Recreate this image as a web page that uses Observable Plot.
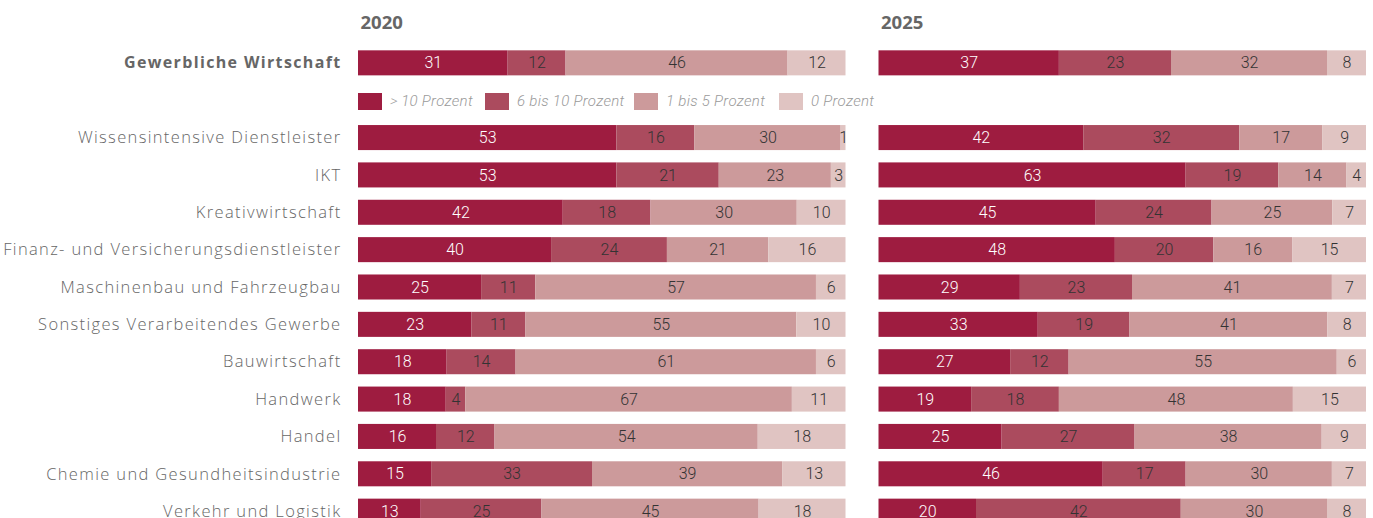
<!DOCTYPE html>
<html>
<head>
<meta charset="utf-8">
<script src="https://cdn.jsdelivr.net/npm/d3@7"></script>
<script src="https://cdn.jsdelivr.net/npm/@observablehq/plot@0.6"></script>
<style>
  html, body { margin: 0; padding: 0; background: #fff; overflow: hidden; }
  #wrap { position: relative; width: 1373px; height: 518px; overflow: hidden; }
  #legend { position: absolute; left: 358px; top: 92px; display: flex; align-items: center;
            font-family: Roboto, sans-serif; font-style: italic; font-weight: 300; font-size: 15px;
            color: #9a9a9a; letter-spacing: 0.3px; white-space: nowrap; }
  #legend .item { display: flex; align-items: center; }
  #legend .sw { width: 24px; height: 17px; margin-right: 8px; flex: none; }
  g[aria-label="y-axis tick label"] { letter-spacing: 1.35px; }
  g[aria-label="y-axis tick label"][font-weight="bold"] { letter-spacing: 1.2px; }
</style>
</head>
<body>
<div id="wrap"><div id="legend"></div></div>
<script>
const years = [2020, 2025];
const groups = [">\u200910 Prozent", "6 bis 10 Prozent", "1 bis 5 Prozent", "0 Prozent"];
const colors = ["#9e1c40", "#ab4b5e", "#cc9a9b", "#e0c4c2"];
const legendWidths = [127, 149, 145, 100];
const totalRow = "Gewerbliche Wirtschaft";
const legendRow = "__legend__";
const categories = [
  "Gewerbliche Wirtschaft",
  "Wissensintensive Dienstleister",
  "IKT",
  "Kreativwirtschaft",
  "Finanz- und Versicherungsdienstleister",
  "Maschinenbau und Fahrzeugbau",
  "Sonstiges Verarbeitendes Gewerbe",
  "Bauwirtschaft",
  "Handwerk",
  "Handel",
  "Chemie und Gesundheitsindustrie",
  "Verkehr und Logistik"
];
// 2020
const y2020_over10 = [31, 53, 53, 42, 40, 25, 23, 18, 18, 16, 15, 13];
const y2020_6to10  = [12, 16, 21, 18, 24, 11, 11, 14,  4, 12, 33, 25];
const y2020_1to5   = [46, 30, 23, 30, 21, 57, 55, 61, 67, 54, 39, 45];
const y2020_zero   = [12,  1,  3, 10, 16,  6, 10,  6, 11, 18, 13, 18];
// 2025
const y2025_over10 = [37, 42, 63, 45, 48, 29, 33, 27, 19, 25, 46, 20];
const y2025_6to10  = [23, 32, 19, 24, 20, 23, 19, 12, 18, 27, 17, 42];
const y2025_1to5   = [32, 17, 14, 25, 16, 41, 41, 55, 48, 38, 30, 30];
const y2025_zero   = [ 8,  9,  4,  7, 15,  7,  8,  6, 15,  9,  7,  8];

const series = {
  2020: [y2020_over10, y2020_6to10, y2020_1to5, y2020_zero],
  2025: [y2025_over10, y2025_6to10, y2025_1to5, y2025_zero]
};
const data = [];
for (const year of years) {
  categories.forEach((cat, i) => {
    groups.forEach((g, j) => {
      data.push({year, cat, group: g, value: series[year][j][i]});
    });
  });
}
const rows = [categories[0], legendRow, ...categories.slice(1)];

const chart = Plot.plot({
  width: 1373,
  height: 536,
  marginLeft: 358,
  marginRight: 7,
  marginTop: 38,
  marginBottom: 0,
  style: { fontFamily: "Roboto, sans-serif", fontSize: "16px", background: "#fff" },
  fx: { domain: years, axis: null, paddingInner: 0.0634, paddingOuter: 0, round: false },
  x: { axis: null, domain: [0, 1] },
  y: { domain: rows, padding: 0.33, axis: null, round: false },
  color: { domain: groups, range: colors },
  marks: [
    Plot.barX(data, Plot.stackX({ x: "value", y: "cat", fx: "year", fill: "group", offset: "normalize" })),
    Plot.text(data, Plot.stackX({
      x: "value", y: "cat", fx: "year", z: "group", offset: "normalize",
      text: d => d.group === groups[0] ? String(d.value) : null,
      fill: "white", fontWeight: 300, fontSize: 16
    })),
    Plot.text(data, Plot.stackX({
      x: "value", y: "cat", fx: "year", z: "group", offset: "normalize",
      text: d => d.group !== groups[0] ? String(d.value) : null,
      fill: "#333", fontWeight: 300, fontSize: 16
    })),
    Plot.text(years, {
      fx: d => d, text: d => String(d), frameAnchor: "top-left", lineAnchor: "middle",
      dx: 2, dy: -15, fontFamily: "'Open Sans', sans-serif", fontWeight: "bold", fontSize: 18.5, fill: "#666"
    }),
    Plot.axisY({
      ticks: categories.slice(1), tickSize: 0, tickPadding: 17, label: null,
      fill: "#666", fontFamily: "'Open Sans', sans-serif", fontWeight: 300, fontSize: 16.5
    }),
    Plot.axisY({
      ticks: [totalRow], tickSize: 0, tickPadding: 17, label: null,
      fill: "#666", fontFamily: "'Open Sans', sans-serif", fontWeight: "bold", fontSize: 16
    })
  ]
});
document.getElementById("wrap").prepend(chart);

const legend = document.getElementById("legend");
groups.forEach((g, i) => {
  const item = document.createElement("div");
  item.className = "item";
  item.style.width = legendWidths[i] + "px";
  const sw = document.createElement("div");
  sw.className = "sw";
  sw.style.background = colors[i];
  const label = document.createElement("span");
  label.textContent = g;
  item.appendChild(sw);
  item.appendChild(label);
  legend.appendChild(item);
});
</script>
</body>
</html>
